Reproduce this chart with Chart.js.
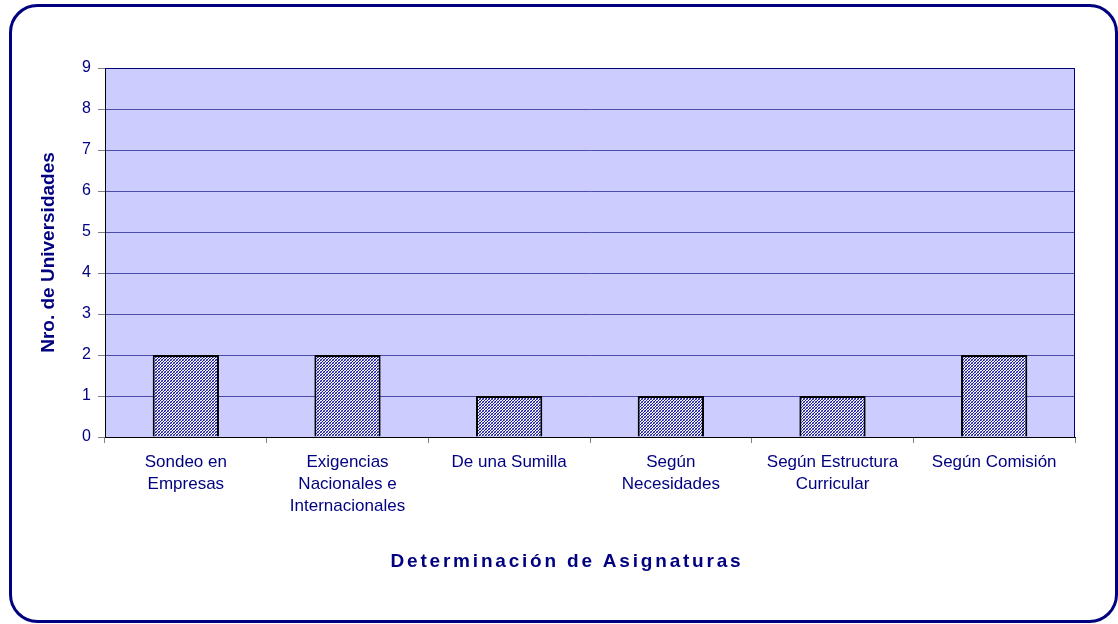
<!DOCTYPE html>
<html>
<head>
<meta charset="utf-8">
<script src="https://cdn.jsdelivr.net/npm/chart.js@4.4.1/dist/chart.umd.min.js"></script>
<style>
  html, body { margin: 0; padding: 0; background: #fff; }
</style>
</head>
<body>
<canvas id="grafico_asignaturas" width="1118" height="624"></canvas>
<script>
// Datos del gráfico
const categorias = [
    ["Sondeo en", "Empresas"],
    ["Exigencias", "Nacionales e", "Internacionales"],
    "De una Sumilla",
    ["Según", "Necesidades"],
    ["Según Estructura", "Curricular"],
    "Según Comisión"
];
const universidades = [2, 2, 1, 1, 1, 2];
const ticksY = [0, 1, 2, 3, 4, 5, 6, 7, 8, 9];
const tituloX = "Determinación de Asignaturas";
const tituloY = "Nro. de Universidades";

const AZUL = "#000080";
const FUENTE = "'Liberation Sans', Arial, sans-serif";

// Trama rayada de las barras (diagonales azules finas)
function crearTrama() {
    const c = document.createElement("canvas");
    c.width = 3;
    c.height = 3;
    const g = c.getContext("2d");
    g.fillStyle = "#f4f4ff";
    g.fillRect(0, 0, 3, 3);
    g.fillStyle = "#1a1a96";
    // una diagonal "/" de píxeles
    g.fillRect(2, 0, 1, 1);
    g.fillRect(1, 1, 1, 1);
    g.fillRect(0, 2, 1, 1);
    g.fillStyle = "rgba(40,40,170,0.6)";
    g.fillRect(0, 0, 1, 1);
    g.fillRect(2, 2, 1, 1);
    return g.createPattern(c, "repeat");
}

// Fondo del área, marco redondeado y título del eje X
const decoracion = {
    id: "decoracion",
    beforeDraw(chart) {
        const { ctx, chartArea: a } = chart;
        ctx.save();
        ctx.fillStyle = "#ffffff";
        ctx.fillRect(0, 0, chart.width, chart.height);
        ctx.fillStyle = "#ccccff";
        ctx.fillRect(a.left, a.top, a.right - a.left, a.bottom - a.top);
        ctx.restore();
    },
    beforeDatasetsDraw(chart) {
        const { ctx, chartArea: a } = chart;
        ctx.save();
        ctx.strokeStyle = AZUL;
        ctx.lineWidth = 1;
        ctx.beginPath();
        ctx.moveTo(a.left, a.top + 0.5);
        ctx.lineTo(a.right - 0.5, a.top + 0.5);
        ctx.lineTo(a.right - 0.5, a.bottom);
        ctx.stroke();
        ctx.restore();
    },
    afterDraw(chart) {
        const ctx = chart.ctx;
        ctx.save();
        ctx.strokeStyle = AZUL;
        ctx.lineWidth = 3;
        ctx.beginPath();
        ctx.roundRect(10.5, 5.5, 1106, 616, 27);
        ctx.stroke();

        ctx.fillStyle = AZUL;
        ctx.font = "bold 19px " + FUENTE;
        ctx.letterSpacing = "2.8px";
        ctx.textAlign = "center";
        ctx.textBaseline = "middle";
        ctx.fillText(tituloX, 567, 562);
        ctx.restore();
    }
};

new Chart(document.getElementById("grafico_asignaturas"), {
    type: "bar",
    data: {
        labels: categorias,
        datasets: [{
            data: universidades,
            backgroundColor: crearTrama(),
            borderColor: "#000000",
            borderWidth: 2,
            categoryPercentage: 1,
            barPercentage: 0.41
        }]
    },
    options: {
        responsive: false,
        animation: false,
        layout: { padding: { left: 0, right: 43, top: 68, bottom: 0 } },
        plugins: {
            legend: { display: false },
            tooltip: { enabled: false }
        },
        scales: {
            x: {
                offset: true,
                grid: {
                    offset: true,
                    drawOnChartArea: false,
                    tickLength: 6,
                    tickColor: "#808080"
                },
                border: { color: "#000000", width: 1 },
                ticks: {
                    color: AZUL,
                    padding: 8,
                    maxRotation: 0,
                    autoSkip: false,
                    font: { family: FUENTE, size: 17, lineHeight: 1.3 }
                },
                afterFit: (s) => { s.height = 187; }
            },
            y: {
                min: ticksY[0],
                max: ticksY[ticksY.length - 1],
                afterBuildTicks: (s) => { s.ticks = ticksY.map(v => ({ value: v })); },
                grid: {
                    color: "#4c4cae",
                    tickColor: "#808080",
                    tickLength: 7
                },
                border: { color: "#000000", width: 1 },
                ticks: {
                    color: AZUL,
                    padding: 7,
                    font: { family: FUENTE, size: 16 }
                },
                title: {
                    display: true,
                    text: tituloY,
                    color: AZUL,
                    padding: { top: 37 },
                    font: { family: FUENTE, size: 19, weight: "bold" }
                },
                afterFit: (s) => { s.width = 105; }
            }
        }
    },
    plugins: [decoracion]
});
</script>
</body>
</html>
